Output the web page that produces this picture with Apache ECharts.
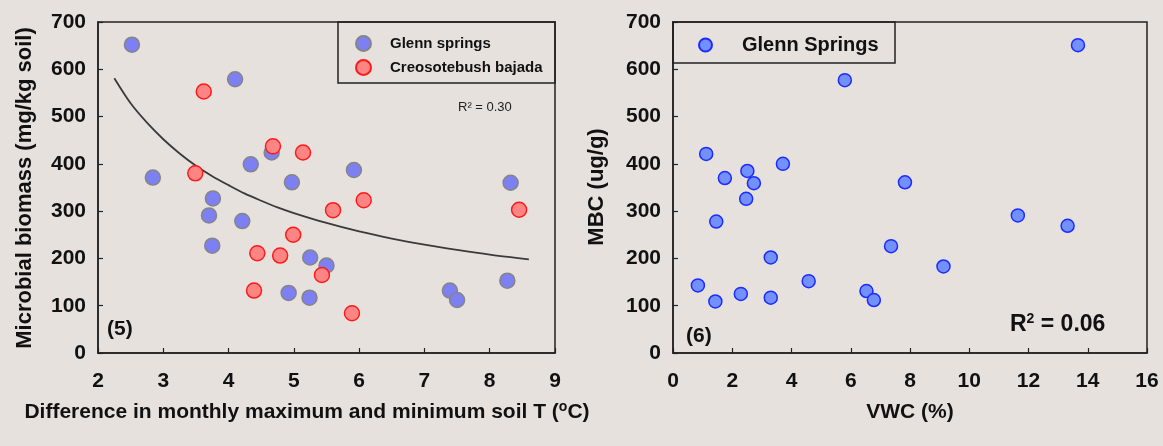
<!DOCTYPE html>
<html><head><meta charset="utf-8">
<script src="https://cdn.jsdelivr.net/npm/echarts/dist/echarts.min.js"></script>
<style>html,body{margin:0;padding:0;background:#e7e1de}#c{width:1163px;height:446px}</style>
</head><body><div id="c"></div>
<script>
// Panel (5): Glenn springs
const gsDiffT   = [2.52, 4.10, 2.84, 4.34, 4.66, 4.97, 5.92, 3.76, 3.70, 4.21, 3.75, 5.25, 5.50, 4.92, 5.24, 8.32, 8.27, 7.39, 7.50];
const gsBiomass = [652, 579, 371, 399, 424, 361, 387, 327, 291, 279, 227, 202, 185, 127, 117, 360, 153, 132, 112];
// Panel (5): Creosotebush bajada
const cbDiffT   = [3.62, 3.49, 4.68, 5.14, 5.60, 6.07, 4.99, 4.44, 4.79, 5.43, 4.39, 5.89, 8.45];
const cbBiomass = [553, 380, 437, 424, 302, 323, 250, 211, 206, 165, 132, 84, 303];
// Panel (5): fitted curve
const trendDiffT   = [2.25, 2.5, 2.75, 3.0, 3.25, 3.5, 3.75, 4.0, 4.25, 4.5, 4.75, 5.0, 5.5, 6.0, 6.5, 7.0, 7.5, 8.0, 8.6];
const trendBiomass = [581, 528, 487, 452, 422, 396, 374, 355, 337, 322, 308, 296, 275, 257, 242, 229, 218, 208, 198];
// Panel (6): Glenn Springs
const gsVWC = [13.67, 5.80, 1.12, 1.75, 2.51, 2.73, 2.47, 3.71, 1.46, 7.83, 3.30, 7.36, 0.84, 1.43, 2.29, 3.30, 4.58, 6.53, 6.78, 11.64, 13.32, 9.13];
const gsMBC = [651, 577, 421, 370, 385, 359, 326, 400, 278, 361, 202, 226, 143, 109, 125, 117, 152, 131, 112, 291, 269, 183];

const leftXTicks = {min: 2, max: 9, interval: 1};
const rightXTicks = {min: 0, max: 16, interval: 2};
const yTicks = {min: 0, max: 700, interval: 100};

const pairs = (xs, ys) => xs.map((x, i) => [x, ys[i]]);
const FONT = '"Liberation Sans", Arial, sans-serif';
const ink = '#111';

function xAxis(idx, t) {
  return {
    gridIndex: idx, type: 'value', min: t.min, max: t.max, interval: t.interval,
    axisLine: {show: true, lineStyle: {color: '#222', width: 1.5}},
    axisTick: {show: true, inside: true, length: 5, lineStyle: {color: '#222', width: 1.2}},
    splitLine: {show: false},
    axisLabel: {color: ink, fontFamily: FONT, fontWeight: 'bold', fontSize: 21, margin: 18}
  };
}
function yAxis(idx, t) {
  return {
    gridIndex: idx, type: 'value', min: t.min, max: t.max, interval: t.interval,
    axisLine: {show: true, lineStyle: {color: '#222', width: 1.5}},
    axisTick: {show: true, inside: true, length: 5, lineStyle: {color: '#222', width: 1.2}},
    splitLine: {show: false},
    axisLabel: {color: ink, fontFamily: FONT, fontWeight: 'bold', fontSize: 21, margin: 12}
  };
}

const chart = echarts.init(document.getElementById('c'), null, {renderer: 'canvas'});
chart.setOption({
  backgroundColor: '#e7e1de',
  animation: false,
  grid: [
    {left: 98, right: 608, top: 22, height: 331, show: true, borderColor: '#222', borderWidth: 1.5, backgroundColor: 'transparent'},
    {left: 673, right: 16, top: 22, height: 331, show: true, borderColor: '#222', borderWidth: 1.5, backgroundColor: 'transparent'}
  ],
  xAxis: [xAxis(0, leftXTicks), xAxis(1, rightXTicks)],
  yAxis: [yAxis(0, yTicks), yAxis(1, yTicks)],
  legend: [
    {
      data: ['Glenn springs', 'Creosotebush bajada'], orient: 'vertical',
      left: 355, top: 35, itemWidth: 15, itemHeight: 15, itemGap: 7, padding: 0,
      textStyle: {fontFamily: FONT, fontWeight: 'bold', fontSize: 15, color: ink, padding: [0, 0, 0, 14]}
    },
    {
      data: ['Glenn Springs'], orient: 'vertical',
      left: 698, top: 35, itemWidth: 13, itemHeight: 13, padding: 0,
      textStyle: {fontFamily: FONT, fontWeight: 'bold', fontSize: 20, color: ink, padding: [0, 0, 0, 25]}
    }
  ],
  series: [
    {
      name: 'trend', type: 'line', xAxisIndex: 0, yAxisIndex: 0, smooth: 0.3, showSymbol: false, symbol: 'none',
      data: pairs(trendDiffT, trendBiomass), lineStyle: {color: '#3a3a3a', width: 1.8}, z: 2, silent: true
    },
    {
      name: 'Glenn springs', type: 'scatter', xAxisIndex: 0, yAxisIndex: 0, symbol: 'circle', symbolSize: 15,
      data: pairs(gsDiffT, gsBiomass),
      itemStyle: {color: '#7d80f2', borderColor: '#858585', borderWidth: 1.5, opacity: 1}, z: 3
    },
    {
      name: 'Creosotebush bajada', type: 'scatter', xAxisIndex: 0, yAxisIndex: 0, symbol: 'circle', symbolSize: 15,
      data: pairs(cbDiffT, cbBiomass),
      itemStyle: {color: '#ff8585', borderColor: '#ff1a1a', borderWidth: 1.5, opacity: 1}, z: 4
    },
    {
      name: 'Glenn Springs', type: 'scatter', xAxisIndex: 1, yAxisIndex: 1, symbol: 'circle', symbolSize: 13,
      data: pairs(gsVWC, gsMBC),
      itemStyle: {color: '#7290ff', borderColor: '#1c2bff', borderWidth: 1.5, opacity: 1}, z: 3
    }
  ],
  graphic: [
    {type: 'rect', shape: {x: 338, y: 22, width: 217, height: 61}, style: {fill: 'none', stroke: '#222', lineWidth: 1.5}, z: 10},
    {type: 'rect', shape: {x: 673, y: 22, width: 222, height: 41}, style: {fill: 'none', stroke: '#222', lineWidth: 1.5}, z: 10},
    {type: 'text', x: 25, y: 188, rotation: Math.PI / 2,
      style: {text: 'Microbial biomass (mg/kg soil)', x: 0, y: 0, align: 'center', verticalAlign: 'middle', font: 'bold 22px ' + FONT, fill: ink}},
    {type: 'text', x: 597, y: 187, rotation: Math.PI / 2,
      style: {text: 'MBC (ug/g)', x: 0, y: 0, align: 'center', verticalAlign: 'middle', font: 'bold 22px ' + FONT, fill: ink}},
    {type: 'text', x: 307, y: 412,
      style: {text: 'Difference in monthly maximum and minimum soil T ({s|o}C)', align: 'center', verticalAlign: 'middle',
        font: 'bold 21px ' + FONT, fill: ink,
        rich: {s: {font: 'bold 14px ' + FONT, fill: ink, verticalAlign: 'top', padding: [0, 0, 10, 0]}}}},
    {type: 'text', x: 910, y: 412,
      style: {text: 'VWC (%)', align: 'center', verticalAlign: 'middle', font: 'bold 21px ' + FONT, fill: ink}},
    {type: 'text', x: 458, y: 107,
      style: {text: 'R² = 0.30', align: 'left', verticalAlign: 'middle', font: '13px ' + FONT, fill: '#222'}},
    {type: 'text', x: 1010, y: 325,
      style: {text: 'R{s|2} = 0.06', align: 'left', verticalAlign: 'middle', font: 'bold 23px ' + FONT, fill: ink,
        rich: {s: {font: 'bold 14px ' + FONT, fill: ink, padding: [0, 0, 12, 0]}}}},
    {type: 'text', x: 107, y: 329,
      style: {text: '(5)', align: 'left', verticalAlign: 'middle', font: 'bold 21px ' + FONT, fill: ink}},
    {type: 'text', x: 686, y: 336,
      style: {text: '(6)', align: 'left', verticalAlign: 'middle', font: 'bold 21px ' + FONT, fill: ink}}
  ]
});
</script>
</body></html>
